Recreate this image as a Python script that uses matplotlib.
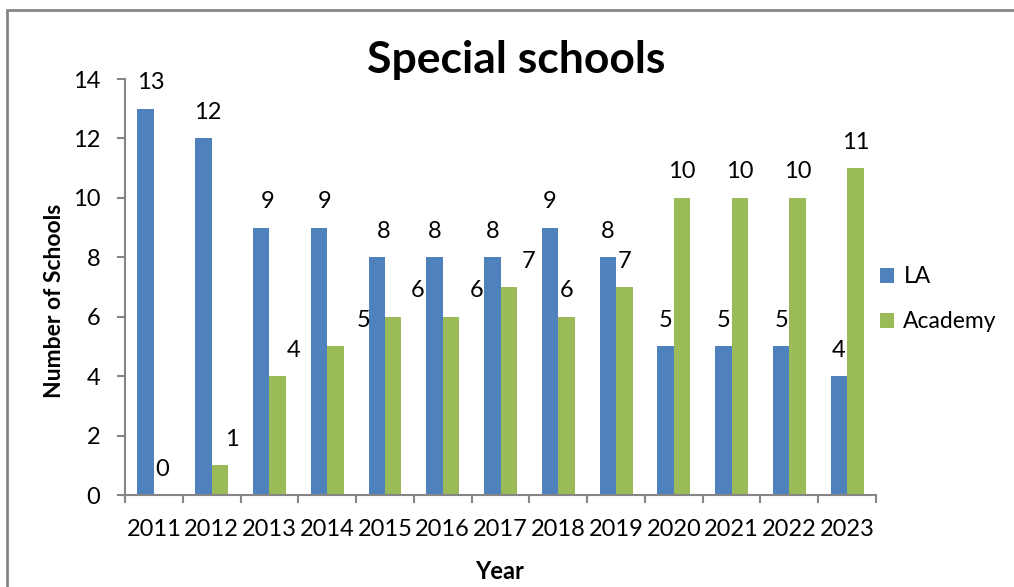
import numpy as np
import matplotlib.pyplot as plt
from matplotlib.patches import Rectangle

# data
years = ["2011", "2012", "2013", "2014", "2015", "2016", "2017",
         "2018", "2019", "2020", "2021", "2022", "2023"]
la = [13, 12, 9, 9, 8, 8, 8, 9, 8, 5, 5, 5, 4]
academy = [0, 1, 4, 5, 6, 6, 7, 6, 7, 10, 10, 10, 11]

# horizontal nudges of the value labels (pixels), as placed in the original
la_dx = [5, 4, 6, 6, 7, 0, 0, 0, 0, 0, 0, 0, 0]
ac_dx = [0, 12, 16, 28, 24, 26, 20, 0, 0, 0, 0, 0, 0]

plt.rcParams['font.family'] = ['Lato', 'DejaVu Sans']
blue = "#4F81BD"
green = "#9BBB59"
grey = "#868686"

fig = plt.figure(figsize=(10.14, 5.87), dpi=100)
ax = fig.add_axes([0.1233, 0.1567, 0.7406, 0.7087])

x = np.arange(len(years))
w = 0.285
b1 = ax.bar(x - w / 2, la, w, color=blue, label="LA")
b2 = ax.bar(x + w / 2, academy, w, color=green, label="Academy")

for xi, v, dx in zip(x - w / 2, la, la_dx):
    ax.annotate(str(v), xy=(xi, v), xytext=(dx, 26), textcoords="offset pixels",
                ha="center", va="center", fontsize=17)
for xi, v, dx in zip(x + w / 2, academy, ac_dx):
    ax.annotate(str(v), xy=(xi, v), xytext=(dx, 26), textcoords="offset pixels",
                ha="center", va="center", fontsize=17)

ax.set_xlim(-0.5, len(years) - 0.5)
ax.set_ylim(0, 14)
ax.set_yticks(range(0, 15, 2))
ax.set_xticks(x)
ax.set_xticklabels(years)
ax.set_xticks(np.arange(-0.5, len(years)), minor=True)

for s in ["top", "right"]:
    ax.spines[s].set_visible(False)
for s in ["left", "bottom"]:
    ax.spines[s].set_color(grey)
    ax.spines[s].set_linewidth(1.5)

ax.tick_params(axis="y", length=6, width=1.5, color=grey, labelsize=17, pad=12)
ax.tick_params(axis="x", which="major", length=0, labelsize=17, pad=17)
ax.tick_params(axis="x", which="minor", length=6, width=1.5, color=grey)

fig.text(0.509, 0.898, "Special schools", ha="center", va="center",
         fontsize=32, fontweight="bold")
fig.text(0.054, 0.487, "Number of Schools", rotation=90, ha="center", va="center",
         fontsize=16.5, fontweight="bold")
fig.text(0.493, 0.027, "Year", ha="center", va="center",
         fontsize=17, fontweight="bold")

fig.legend(handles=[b1, b2], loc="center left", bbox_to_anchor=(0.848, 0.49),
           frameon=False, fontsize=16.5, handlelength=0.6, handleheight=0.6,
           handletextpad=0.4, labelspacing=1.05)

fig.patches.append(Rectangle((0.0069, -0.1), 1.2, 1.083, transform=fig.transFigure,
                             fill=False, edgecolor=grey, linewidth=2))

fig.savefig("out.png", dpi=100)
